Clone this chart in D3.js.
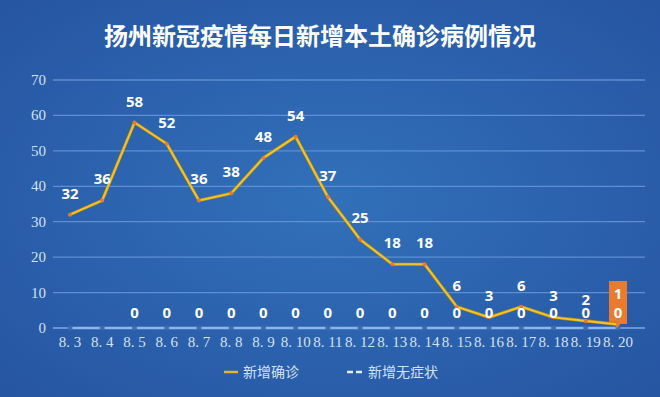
<!DOCTYPE html>
<html>
<head>
<meta charset="utf-8">
<script src="https://cdn.jsdelivr.net/npm/d3@7"></script>
<style>
  body { margin: 0; background: #2a5aa6; }
  svg { display: block; }
</style>
</head>
<body>
<svg id="chart"></svg>
<script>
var dates = ["8.3","8.4","8.5","8.6","8.7","8.8","8.9","8.10","8.11","8.12","8.13","8.14","8.15","8.16","8.17","8.18","8.19","8.20"];
var confirmed = [32,36,58,52,36,38,48,54,37,25,18,18,6,3,6,3,2,1];
var asymptomatic = [0,0,0,0,0,0,0,0,0,0,0,0,0,0,0,0,0,0];
var asymLabelFrom = 2; // 8.3, 8.4 have no label
var yTicks = [0,10,20,30,40,50,60,70];
var title = "扬州新冠疫情每日新增本土确诊病例情况";
var legendNames = ["新增确诊","新增无症状"];

var width = 660, height = 397;

var svg = d3.select("#chart").attr("width", width).attr("height", height);

// background gradient
var defs = svg.append("defs");
var grad = defs.append("radialGradient").attr("id","bg")
    .attr("cx","50%").attr("cy","50%").attr("r","70%");
grad.append("stop").attr("offset","0%").attr("stop-color","#3270ba");
grad.append("stop").attr("offset","100%").attr("stop-color","#2655a2");
svg.append("rect").attr("width",width).attr("height",height).attr("fill","url(#bg)");

var x = d3.scalePoint().domain(dates).range([70, 618]);
var y = d3.scaleLinear().domain([0,70]).range([328, 80]);

var serif = "'Liberation Serif', 'DejaVu Serif', serif";

// gridlines
svg.append("g").selectAll("line")
    .data(yTicks.filter(function(d){ return d > 0; }))
    .enter().append("line")
    .attr("x1", 53).attr("x2", 645)
    .attr("y1", function(d){ return y(d); })
    .attr("y2", function(d){ return y(d); })
    .attr("stroke", "#5d8fd2")
    .attr("stroke-width", 1.3);

// y labels
svg.append("g").selectAll("text")
    .data(yTicks).enter().append("text")
    .attr("x", 46)
    .attr("y", function(d){ return y(d) + 5; })
    .attr("text-anchor", "end")
    .style("font-family", serif)
    .attr("font-size", 15)
    .attr("fill", "#d2e0f4")
    .text(function(d){ return d; });

// x labels
svg.append("g").selectAll("text")
    .data(dates).enter().append("text")
    .attr("x", function(d){ return x(d); })
    .attr("y", 347)
    .attr("text-anchor", "middle")
    .style("font-family", serif)
    .attr("font-size", 15)
    .attr("fill", "#d2e0f4")
    .text(function(d){ return d.replace(".", ". "); });

// asymptomatic line (sits on the zero axis)
var line = d3.line()
    .x(function(d,i){ return x(dates[i]); })
    .y(function(d){ return y(d); });

svg.append("line")
    .attr("x1", 53).attr("x2", 645)
    .attr("y1", y(0)).attr("y2", y(0))
    .attr("stroke", "#7ea8e2").attr("stroke-width", 1.5);

svg.append("path")
    .datum(asymptomatic)
    .attr("d", line)
    .attr("fill", "none")
    .attr("stroke", "#8fb6ea")
    .attr("stroke-width", 2.5);

svg.append("g").selectAll("circle")
    .data(asymptomatic).enter().append("circle")
    .attr("cx", function(d,i){ return x(dates[i]); })
    .attr("cy", function(d){ return y(d); })
    .attr("r", 2.5)
    .attr("fill", "#3b6bb0");

// orange highlight for the last day
var last = dates.length - 1;
var hx = x(dates[last]);
svg.append("path")
    .attr("d", "M" + (hx-9) + "," + (y(0) - 47) +
               "H" + (hx+9) + "V" + (y(0) - 4) +
               "H" + (hx+1) + "L" + (hx-1) + "," + (y(0)+1) +
               "L" + (hx-3) + "," + (y(0) - 4) + "H" + (hx-9) + "Z")
    .attr("fill", "#ea7a2c");

// confirmed line
svg.append("path")
    .datum(confirmed)
    .attr("d", line)
    .attr("fill", "none")
    .attr("stroke", "#b08a1a")
    .attr("stroke-width", 3.2)
    .attr("stroke-linejoin", "round");
svg.append("path")
    .datum(confirmed)
    .attr("d", line)
    .attr("fill", "none")
    .attr("stroke", "#f3c42a")
    .attr("stroke-width", 2)
    .attr("stroke-linejoin", "round");

svg.append("g").selectAll("circle")
    .data(confirmed).enter().append("circle")
    .attr("cx", function(d,i){ return x(dates[i]); })
    .attr("cy", function(d){ return y(d); })
    .attr("r", 2)
    .attr("fill", "#e8783a");

// data labels
var labelFont = "'Open Sans', 'DejaVu Sans', sans-serif";
svg.append("g").selectAll("text")
    .data(confirmed).enter().append("text")
    .attr("x", function(d,i){ return x(dates[i]); })
    .attr("y", function(d,i){
        // the last one sits inside the orange box, above its zero
        return i === last ? y(0) - 29 : y(d) - 16;
    })
    .attr("text-anchor", "middle")
    .style("font-family", labelFont)
    .attr("font-weight", "bold")
    .attr("font-size", 15)
    .attr("fill", "#ffffff")
    .text(function(d){ return d; });

svg.append("g").selectAll("text")
    .data(asymptomatic.slice(asymLabelFrom)).enter().append("text")
    .attr("x", function(d,i){ return x(dates[i + asymLabelFrom]); })
    .attr("y", function(d){ return y(d) - 10; })
    .attr("text-anchor", "middle")
    .style("font-family", labelFont)
    .attr("font-weight", "bold")
    .attr("font-size", 15)
    .attr("fill", "#ffffff")
    .text(function(d){ return d; });

// title
svg.append("text")
    .attr("x", 320).attr("y", 45)
    .attr("text-anchor", "middle")
    .style("font-family", "'Noto Sans CJK SC', sans-serif")
    .attr("font-weight", "bold")
    .attr("font-size", 24)
    .attr("fill", "#ffffff")
    .text(title);

// legend
var lg = svg.append("g").style("font-family", "'Noto Sans CJK SC', sans-serif")
    .attr("font-size", 14).attr("fill", "#d2e0f4");
lg.append("line").attr("x1", 224).attr("x2", 238).attr("y1", 372).attr("y2", 372)
    .attr("stroke", "#e3b52a").attr("stroke-width", 2.5);
lg.append("text").attr("x", 243).attr("y", 377).text(legendNames[0]);
lg.append("line").attr("x1", 347).attr("x2", 363).attr("y1", 372).attr("y2", 372)
    .attr("stroke", "#e4eefb").attr("stroke-width", 2.5).attr("stroke-dasharray", "6,3");
lg.append("text").attr("x", 368).attr("y", 377).text(legendNames[1]);
</script>
</body>
</html>
